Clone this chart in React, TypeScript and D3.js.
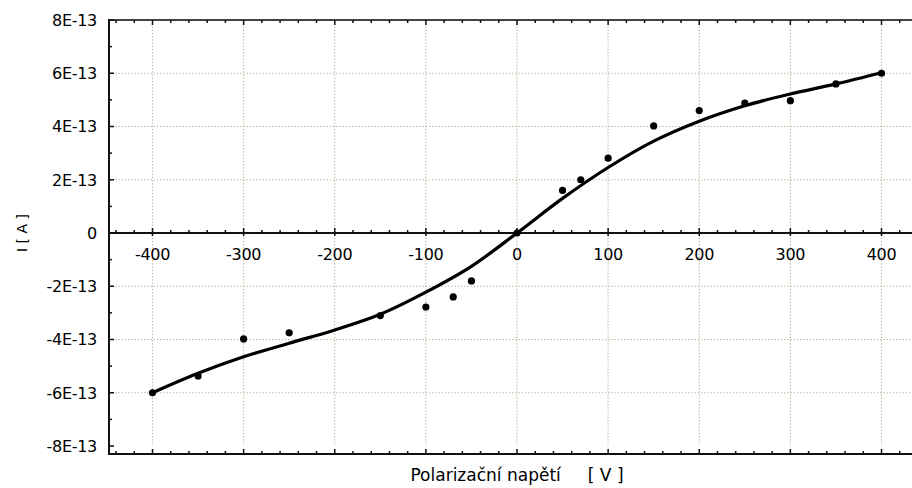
import React from 'react'
import * as d3 from 'd3'

// measured points: polarization voltage [V] vs current [A]
const measuredU = [-400, -350, -300, -250, -150, -100, -70, -50, 0, 50, 70, 100, 150, 200, 250, 300, 350, 400]
const measuredI = [-6.0, -5.37, -3.98, -3.75, -3.1, -2.78, -2.4, -1.8, 0, 1.6, 2.0, 2.81, 4.02, 4.6, 4.88, 4.97, 5.6, 6.0].map(v => v * 1e-13)

// fitted curve
const fitU = [-400, -350, -300, -250, -200, -150, -100, -50, 0, 50, 100, 150, 200, 250, 300, 350, 400]
const fitI = [-6.0, -5.27, -4.65, -4.14, -3.64, -3.05, -2.22, -1.25, 0, 1.3, 2.46, 3.45, 4.2, 4.78, 5.22, 5.6, 6.02].map(v => v * 1e-13)

const xMajor = [-400, -300, -200, -100, 0, 100, 200, 300, 400]
const yMajor = [8, 6, 4, 2, 0, -2, -4, -6, -8].map(v => v * 1e-13)

const xTitle = 'Polarizační napětí     [ V ]'
const yTitle = 'I [ A ]'

const W = 912
const H = 488
const FONT = '"DejaVu Sans", Verdana, sans-serif'

const fmtY = (v: number) => {
  const n = Math.round(v / 1e-13)
  return n === 0 ? '0' : `${n}E-13`
}

export default function App() {
  const x = d3.scaleLinear().domain([-400, 400]).range([152.5, 881.5])
  const y = d3.scaleLinear().domain([-8e-13, 8e-13]).range([446, 20])

  const left = 109
  const right = W
  const top = y(8e-13)
  const bottom = 454
  const zeroY = y(0)

  const xMinor = d3.range(-440, 421, 20)
  const yMinor = d3.range(-8, 8.01, 1).map(v => v * 1e-13)

  const line = d3.line<number>()
    .x((d, i) => x(fitU[i]))
    .y(d => y(d))
    .curve(d3.curveCatmullRom.alpha(0.5))

  const gridColor = '#b5b196'

  return (
    <svg width={W} height={H} style={{ position: 'absolute', left: 0, top: 0, background: '#fff', fontFamily: FONT }}>
      {/* grid */}
      {xMajor.map(v => (
        <line key={'gx' + v} x1={x(v)} x2={x(v)} y1={top} y2={y(-8e-13)}
          stroke={gridColor} strokeWidth={1.2} strokeDasharray="1.2,2" />
      ))}
      {yMajor.filter(v => Math.abs(v) > 1e-14 && Math.abs(v) < 7.9e-13).map(v => (
        <line key={'gy' + v} x1={left} x2={right} y1={y(v)} y2={y(v)}
          stroke={gridColor} strokeWidth={1.2} strokeDasharray="1.2,2" />
      ))}

      {/* frame */}
      <line x1={left} x2={right} y1={top} y2={top} stroke="#444" strokeWidth={2} />
      <line x1={left} x2={right} y1={bottom} y2={bottom} stroke="#111" strokeWidth={2} />
      <line x1={left} x2={left} y1={top - 1} y2={bottom + 1} stroke="#111" strokeWidth={2} />
      <line x1={left} x2={right} y1={zeroY} y2={zeroY} stroke="#111" strokeWidth={2} />

      {/* x ticks on top, bottom and zero line */}
      {xMinor.map(v => {
        const major = v % 100 === 0
        const len = major ? 5 : 3
        return (
          <g key={'tx' + v} stroke="#111" strokeWidth={1.5}>
            <line x1={x(v)} x2={x(v)} y1={top} y2={top + len} />
            <line x1={x(v)} x2={x(v)} y1={bottom} y2={bottom - len} />
            <line x1={x(v)} x2={x(v)} y1={zeroY - len} y2={zeroY + (major ? 3 : 0)} />
          </g>
        )
      })}

      {/* y ticks */}
      {yMinor.map(v => {
        const major = Math.round(v / 1e-13) % 2 === 0
        return (
          <line key={'ty' + v} x1={left} x2={left + (major ? 5 : 3)} y1={y(v)} y2={y(v)}
            stroke="#111" strokeWidth={1.5} />
        )
      })}

      {/* y tick labels */}
      {yMajor.map(v => (
        <text key={'ly' + v} x={97} y={y(v)} dy="0.36em" textAnchor="end"
          fontSize={16} fill="#000" letterSpacing={-0.3}>{fmtY(v)}</text>
      ))}

      {/* x tick labels */}
      {xMajor.map(v => (
        <text key={'lx' + v} x={x(v)} y={zeroY + 21} dy="0.36em" textAnchor="middle"
          fontSize={16} fill="#000" letterSpacing={-0.3}>{v}</text>
      ))}

      {/* fitted curve */}
      <path d={line(fitI) || ''} fill="none" stroke="#000" strokeWidth={3.2} />

      {/* measured points */}
      {measuredU.map((u, i) => (
        <circle key={'p' + i} cx={x(u)} cy={y(measuredI[i])} r={3.6} fill="#000" />
      ))}

      {/* axis titles */}
      <text x={517} y={475} dy="0.36em" textAnchor="middle" fontSize={17} fill="#000"
        style={{ whiteSpace: 'pre' }}>{xTitle}</text>
      <text transform={`translate(22,233) rotate(-90)`} dy="0.36em" textAnchor="middle"
        fontSize={14} fill="#000" style={{ whiteSpace: 'pre' }}>{yTitle}</text>
    </svg>
  )
}
